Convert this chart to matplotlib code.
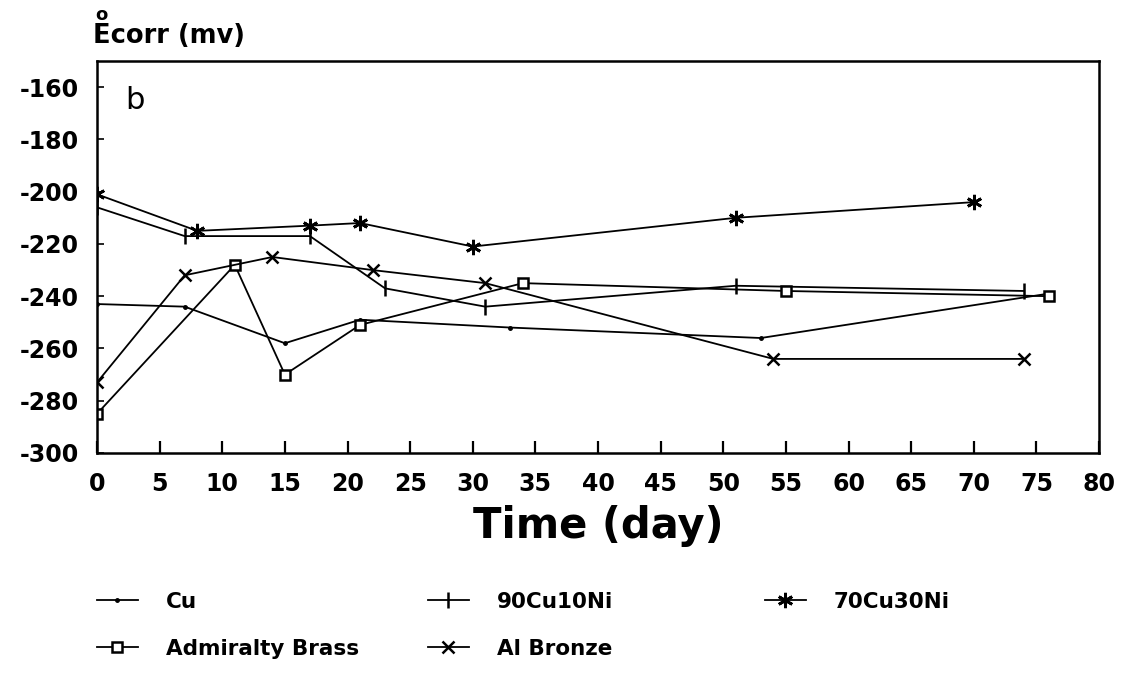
import matplotlib
matplotlib.use("Agg")
import matplotlib.pyplot as plt

# ---- data ----
cu_x = [0, 7, 15, 21, 33, 53, 76]
cu_y = [-243, -244, -258, -249, -252, -256, -239]

cuni90_x = [0, 7, 17, 23, 31, 51, 74]
cuni90_y = [-206, -217, -217, -237, -244, -236, -238]

cuni70_x = [0, 8, 17, 21, 30, 51, 70]
cuni70_y = [-201, -215, -213, -212, -221, -210, -204]

brass_x = [0, 11, 15, 21, 34, 55, 76]
brass_y = [-285, -228, -270, -251, -235, -238, -240]

albr_x = [0, 7, 14, 22, 31, 54, 74]
albr_y = [-273, -232, -225, -230, -235, -264, -264]

x_ticks = list(range(0, 81, 5))
y_ticks = list(range(-300, -159, 20))

W, H = 1132, 679
fig = plt.figure(figsize=(W / 100, H / 100), dpi=100)
ax = fig.add_axes([97 / W, 1 - 453 / H, (1099 - 97) / W, (453 - 61) / H])

lw = 1.3
l_cu, = ax.plot(cu_x, cu_y, color="black", lw=lw, marker=".", ms=5, label="Cu")
l_90, = ax.plot(cuni90_x, cuni90_y, color="black", lw=lw, marker="|", ms=12, mew=1.8, label="90Cu10Ni")
l_70, = ax.plot(cuni70_x, cuni70_y, color="black", lw=lw, marker=(6, 2, 0), ms=11, mew=2.0, label="70Cu30Ni")
l_br, = ax.plot(brass_x, brass_y, color="black", lw=lw, marker="s", ms=7, mfc="white", mew=1.8, label="Admiralty Brass")
l_al, = ax.plot(albr_x, albr_y, color="black", lw=lw, marker="x", ms=8.5, mew=1.8, label="Al Bronze")

ax.set_xlim(0, 80)
ax.set_ylim(-300, -150)
ax.set_xticks(x_ticks)
ax.set_xticklabels([str(v) for v in x_ticks])
ax.set_yticks(y_ticks)
ax.set_yticklabels(["-" + str(-v) for v in y_ticks])

for s in ax.spines.values():
    s.set_linewidth(1.8)

ax.tick_params(axis="x", direction="in", length=9, width=1.6, pad=14,
               labelsize=17)
ax.tick_params(axis="y", direction="in", length=5, width=1.2, pad=13,
               labelsize=17)
for t in ax.get_xticklabels() + ax.get_yticklabels():
    t.set_fontweight("bold")

ax.set_xlabel("Time (day)", fontsize=30, fontweight="bold", labelpad=6)

# panel letter
ax.text(3.0, -165, "b", fontsize=22, ha="center", va="center")

# y-axis title
fig.text(93 / W, 1 - 43 / H, "Ecorr (mv)", fontsize=18.5, fontweight="bold",
         ha="left", va="baseline")
fig.text(101 / W, 1 - 15 / H, "o", fontsize=13, fontweight="bold",
         ha="center", va="center")

# legends (three columns)
common = dict(frameon=False, handlelength=1.9, handletextpad=1.3,
              labelspacing=1.25, borderpad=0, borderaxespad=0,
              prop={"weight": "bold", "size": 15.5})
fig.legend(handles=[l_cu, l_br], loc="upper left",
           bbox_to_anchor=(97 / W, 1 - 592 / H), **common)
fig.legend(handles=[l_90, l_al], loc="upper left",
           bbox_to_anchor=(428 / W, 1 - 592 / H), **common)
fig.legend(handles=[l_70], loc="upper left",
           bbox_to_anchor=(765 / W, 1 - 592 / H), **common)

fig.savefig("out.png", dpi=100)
